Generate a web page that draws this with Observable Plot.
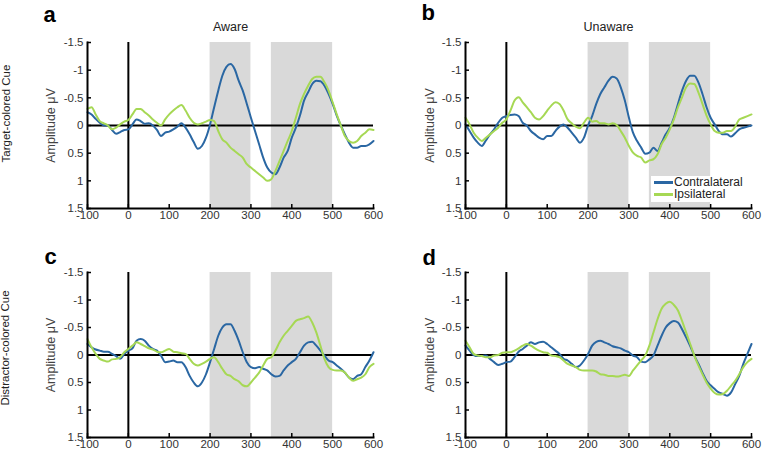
<!DOCTYPE html>
<html>
<head>
<meta charset="utf-8">
<script src="https://cdn.jsdelivr.net/npm/d3@7"></script>
<script src="https://cdn.jsdelivr.net/npm/@observablehq/plot@0.6"></script>
<style>
  body { margin: 0; background: #fff; font-family: "Liberation Sans", Arial, sans-serif; }
  #wrap { position: relative; width: 762px; height: 451px; overflow: hidden; }
  .panel { position: absolute; }
  .legend { position: absolute; left: 651px; top: 176px; width: 96px; padding: 1px 0 2px 3px; background: #fff; font-size: 12px; color: #222; line-height: 11.5px; }
  .legend div { display: flex; align-items: center; white-space: nowrap; }
  .legend span.sw { display: inline-block; width: 19px; height: 3px; margin-right: 1px; }
</style>
</head>
<body>
<div id="wrap"></div>
<script>
// ---- data ----
const times = [-100,-90,-80,-70,-60,-50,-40,-30,-20,-10,0,10,20,30,40,50,60,70,80,90,100,110,120,130,140,150,160,170,180,190,200,210,220,230,240,250,260,270,280,290,300,310,320,330,340,350,360,370,380,390,400,410,420,430,440,450,460,470,480,490,500,510,520,530,540,550,560,570,580,590,600];

const seriesNames = ["Contralateral", "Ipsilateral"];
const seriesColors = ["#2a67a3", "#a6d854"];
const xTicks = [-100, 0, 100, 200, 300, 400, 500, 600];
const yTicks = [-1.5, -1, -0.5, 0, 0.5, 1, 1.5];
const windowStart = [200, 350];
const windowEnd = [300, 500];

// panel a: Target-colored cue, Aware
const aContra = [-0.24,-0.2,-0.12,-0.05,0.0,0.0,0.08,0.15,0.12,0.08,0.07,-0.02,-0.11,-0.08,-0.03,-0.04,0.0,0.08,0.19,0.13,0.11,0.07,0.02,-0.04,0.04,0.16,0.3,0.42,0.37,0.22,-0.02,-0.33,-0.63,-0.9,-1.06,-1.11,-1.02,-0.81,-0.63,-0.39,-0.14,0.1,0.34,0.58,0.76,0.85,0.88,0.76,0.58,0.46,0.22,0.04,-0.18,-0.45,-0.6,-0.75,-0.81,-0.8,-0.72,-0.57,-0.39,-0.18,0.0,0.16,0.31,0.4,0.4,0.37,0.37,0.34,0.28];
const aIpsi = [-0.3,-0.33,-0.2,-0.08,-0.04,0.0,0.07,0.04,-0.02,-0.07,-0.1,-0.2,-0.3,-0.3,-0.24,-0.18,-0.11,-0.05,0.0,-0.11,-0.2,-0.27,-0.33,-0.37,-0.27,-0.14,-0.05,-0.02,-0.04,-0.07,-0.1,-0.08,0.1,0.25,0.31,0.4,0.46,0.52,0.58,0.7,0.76,0.82,0.88,0.94,1.0,0.97,0.82,0.64,0.46,0.28,0.1,-0.14,-0.39,-0.57,-0.72,-0.84,-0.88,-0.88,-0.78,-0.63,-0.42,-0.2,0.0,0.19,0.28,0.31,0.28,0.19,0.13,0.07,0.08];
// panel b: Target-colored cue, Unaware
const bContra = [-0.02,0.1,0.22,0.31,0.37,0.27,0.16,0.07,-0.05,-0.14,-0.17,-0.19,-0.2,-0.17,-0.05,0.0,0.1,0.16,0.22,0.25,0.19,0.19,0.1,0.02,-0.02,0.04,0.13,0.22,0.31,0.22,0.0,-0.17,-0.39,-0.57,-0.69,-0.81,-0.88,-0.85,-0.69,-0.45,-0.14,0.13,0.28,0.4,0.51,0.49,0.4,0.46,0.31,0.16,0.04,-0.14,-0.39,-0.63,-0.81,-0.9,-0.9,-0.78,-0.57,-0.33,-0.14,-0.02,0.1,0.16,0.16,0.2,0.14,0.07,0.04,0.02,0.0];
const bIpsi = [-0.14,-0.02,0.13,0.22,0.28,0.22,0.16,0.1,0.04,-0.05,-0.11,-0.27,-0.45,-0.51,-0.42,-0.33,-0.24,-0.14,-0.11,-0.17,-0.27,-0.36,-0.42,-0.39,-0.27,-0.11,-0.04,0.02,0.05,-0.05,-0.14,-0.07,-0.08,-0.04,-0.04,-0.02,-0.04,-0.01,0.1,0.22,0.37,0.49,0.55,0.58,0.67,0.63,0.61,0.52,0.34,0.22,0.07,-0.11,-0.33,-0.51,-0.69,-0.76,-0.75,-0.6,-0.39,-0.18,-0.02,0.1,0.13,0.13,0.1,0.1,0.02,-0.11,-0.14,-0.17,-0.2];
// panel c: Distractor-colored cue, Aware
const cContra = [-0.2,-0.14,-0.1,-0.08,-0.06,-0.06,-0.02,0.02,0.07,-0.02,-0.08,-0.12,-0.26,-0.29,-0.26,-0.17,-0.11,-0.08,0.01,0.13,0.12,0.1,0.13,0.13,0.22,0.38,0.5,0.57,0.5,0.35,0.13,-0.11,-0.35,-0.5,-0.56,-0.56,-0.44,-0.26,-0.05,0.13,0.22,0.24,0.22,0.25,0.28,0.35,0.39,0.38,0.28,0.19,0.13,0.07,-0.05,-0.17,-0.23,-0.24,-0.17,-0.08,0.01,0.1,0.13,0.19,0.25,0.32,0.41,0.44,0.38,0.35,0.22,0.1,-0.05];
const cIpsi = [-0.29,-0.14,-0.02,0.07,0.1,0.12,0.08,0.07,0.04,-0.05,-0.11,-0.17,-0.23,-0.2,-0.16,-0.12,-0.1,-0.06,-0.05,-0.08,-0.11,-0.06,-0.05,-0.03,-0.02,0.07,0.16,0.19,0.16,0.12,0.07,0.04,0.13,0.25,0.35,0.38,0.44,0.48,0.55,0.57,0.5,0.41,0.32,0.19,0.07,0.04,-0.08,-0.23,-0.35,-0.44,-0.53,-0.62,-0.65,-0.67,-0.7,-0.59,-0.41,-0.17,0.07,0.22,0.27,0.28,0.28,0.32,0.41,0.47,0.44,0.41,0.35,0.22,0.16];
// panel d: Distractor-colored cue, Unaware
const dContra = [-0.17,-0.08,0.0,0.02,0.02,0.01,0.07,0.13,0.18,0.16,0.13,0.12,0.04,-0.06,-0.11,-0.17,-0.23,-0.2,-0.23,-0.24,-0.2,-0.14,-0.08,-0.02,0.07,0.1,0.16,0.22,0.19,0.1,-0.02,-0.17,-0.24,-0.26,-0.23,-0.2,-0.16,-0.14,-0.12,-0.08,-0.05,0.01,0.04,0.12,0.13,0.08,0.01,-0.17,-0.35,-0.5,-0.58,-0.62,-0.59,-0.47,-0.32,-0.16,0.01,0.16,0.32,0.47,0.55,0.62,0.68,0.71,0.74,0.68,0.53,0.38,0.16,-0.02,-0.2];
const dIpsi = [-0.26,-0.14,-0.02,0.01,0.02,0.04,0.04,0.01,0.0,-0.04,-0.05,-0.05,-0.08,-0.12,-0.17,-0.2,-0.17,-0.12,-0.08,-0.05,-0.04,0.01,0.02,0.04,0.1,0.16,0.19,0.22,0.27,0.28,0.28,0.28,0.3,0.35,0.36,0.38,0.38,0.39,0.38,0.36,0.38,0.28,0.19,0.1,0.01,-0.17,-0.41,-0.65,-0.84,-0.93,-0.97,-0.91,-0.81,-0.62,-0.41,-0.2,0.01,0.19,0.35,0.5,0.61,0.69,0.72,0.71,0.65,0.56,0.47,0.35,0.22,0.13,0.07];

const panelLetters = ["a", "b", "c", "d"];
const panelTitles = ["Aware", "Unaware", "", ""];
const rowLabels = ["Target-colored Cue", "", "Distractor-colored Cue", ""];
const panelSeries = [[aContra, aIpsi], [bContra, bIpsi], [cContra, cIpsi], [dContra, dIpsi]];

// ---- layout (pixels) ----
const layouts = [
  {left: 0,   top: 0,   width: 381, height: 225, mL: 87, mR: 8,  mT: 42, mB: 17, letterDx: -44, letterDy: -21, ylabDx: -37, rowDx: -81, rowDy: -12},
  {left: 381, top: 0,   width: 381, height: 225, mL: 84, mR: 11, mT: 42, mB: 17, letterDx: -44, letterDy: -23, ylabDx: -36, rowDx: 0, rowDy: 0},
  {left: 0,   top: 225, width: 381, height: 226, mL: 87, mR: 8,  mT: 47, mB: 14, letterDx: -43, letterDy: -9,  ylabDx: -37, rowDx: -82, rowDy: -7},
  {left: 381, top: 225, width: 381, height: 226, mL: 84, mR: 11, mT: 47, mB: 14, letterDx: -43, letterDy: -8,  ylabDx: -36, rowDx: 0, rowDy: 0}
];

const windows = windowStart.map((s, i) => ({start: s, end: windowEnd[i]}));
const wrap = document.getElementById("wrap");

panelSeries.forEach((pair, p) => {
  const L = layouts[p];
  const data = [];
  pair.forEach((vals, s) => vals.forEach((v, i) => data.push({t: times[i], v, series: seriesNames[s]})));

  const marks = [
    Plot.rect(windows, {x1: "start", x2: "end", fill: "#d9d9d9"}),
    Plot.ruleY([0], {stroke: "black", strokeWidth: 2}),
    Plot.ruleX([0], {stroke: "black", strokeWidth: 2}),
    Plot.line(data, {x: "t", y: "v", z: "series", stroke: "series", strokeWidth: 2, curve: "monotone-x"}),
    Plot.frame({anchor: "left", stroke: "black", strokeWidth: 2}),
    Plot.frame({anchor: "bottom", stroke: "black", strokeWidth: 2}),
    Plot.axisY({ticks: yTicks, tickSize: 4, dx: 4, tickFormat: () => "", label: null, strokeWidth: 1.5, stroke: "black"}),
    Plot.axisX({ticks: xTicks, tickSize: 4, dy: -4, tickFormat: () => "", label: null, strokeWidth: 1.5, stroke: "black"}),
    Plot.axisY({ticks: yTicks, tickSize: 0, tickPadding: 4, tickFormat: d => String(d), label: null, fill: "#333", fontSize: 11.5}),
    Plot.axisX({ticks: xTicks, tickSize: 0, tickPadding: 2, tickFormat: d => String(d), label: null, fill: "#333", fontSize: 11.5}),
    Plot.text(["Amplitude μV"], {text: d => d, frameAnchor: "left", textAnchor: "middle", lineAnchor: "middle", rotate: -90, dx: L.ylabDx, fontSize: 12.5, fill: "#444"}),
    Plot.text([panelLetters[p]], {text: d => d, frameAnchor: "top-left", textAnchor: "start", lineAnchor: "bottom", dx: L.letterDx, dy: L.letterDy, fontSize: 22, fontWeight: "bold", fill: "black"})
  ];
  if (panelTitles[p]) marks.push(Plot.text([panelTitles[p]], {text: d => d, frameAnchor: "top", lineAnchor: "middle", dy: -16, fontSize: 12.5, fill: "#222"}));
  if (rowLabels[p]) marks.push(Plot.text([rowLabels[p]], {text: d => d, frameAnchor: "left", textAnchor: "middle", lineAnchor: "middle", rotate: -90, dx: L.rowDx, dy: L.rowDy, fontSize: 11.5, fill: "#222"}));

  const chart = Plot.plot({
    width: L.width, height: L.height,
    marginLeft: L.mL, marginRight: L.mR, marginTop: L.mT, marginBottom: L.mB,
    x: {domain: [-100, 600]},
    y: {domain: [-1.5, 1.5], reverse: true},
    color: {domain: seriesNames, range: seriesColors},
    style: {fontFamily: "'Liberation Sans', Arial, sans-serif", fontSize: "11.5px", overflow: "visible", background: "transparent"},
    marks
  });
  const holder = document.createElement("div");
  holder.className = "panel";
  holder.style.left = L.left + "px";
  holder.style.top = L.top + "px";
  holder.appendChild(chart);
  wrap.appendChild(holder);
});

// legend (panel b)
const legend = document.createElement("div");
legend.className = "legend";
seriesNames.forEach((name, i) => {
  const row = document.createElement("div");
  const sw = document.createElement("span");
  sw.className = "sw";
  sw.style.background = seriesColors[i];
  row.appendChild(sw);
  row.appendChild(document.createTextNode(name));
  legend.appendChild(row);
});
wrap.appendChild(legend);
</script>
</body>
</html>
